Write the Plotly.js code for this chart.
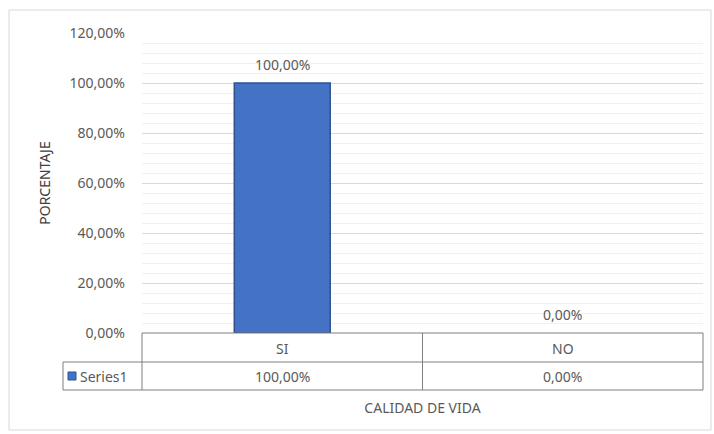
<!DOCTYPE html>
<html>
<head>
<meta charset="utf-8">
<script src="https://cdn.plot.ly/plotly-3.0.1.min.js"></script>
<style>
  html, body { margin: 0; padding: 0; background: #ffffff; }
  #chart { width: 714px; height: 434px; }
</style>
</head>
<body>
<div id="chart"></div>
<script>
// ---- data ----
const categories = ['SI', 'NO'];
const values = [1.00, 0.00];          // fractions (100,00% and 0,00%)
const seriesName = 'Series1';
const xAxisTitle = 'CALIDAD DE VIDA';
const yAxisTitle = 'PORCENTAJE';

// ---- helpers ----
function fmtPct(v) { return (v * 100).toFixed(2).replace('.', ',') + '%'; }

// plot-area pixel geometry -> paper coords
const L = 142, R = 11, T = 33, B = 101, W = 714, H = 434;
const pw = W - L - R, ph = H - T - B;
const px = p => (p - L) / pw;
const py = p => (H - B - p) / ph;

const FONT = 'Noto Sans, Liberation Sans, sans-serif';
const TXT = '#595959';
const LINE = '#7f7f7f';

const row1Top = py(333), row2Top = py(362), row2Bot = py(390);
const row1Mid = py(348), row2Mid = py(376);
const legendLeft = px(63);

const shapes = [
  // outer chart border
  {type: 'rect', xref: 'paper', yref: 'paper', x0: px(9), x1: px(711), y0: py(10), y1: py(430),
   line: {color: '#d9d9d9', width: 1}, fillcolor: 'rgba(0,0,0,0)', layer: 'below'},
  // table horizontal lines
  {type: 'line', xref: 'paper', yref: 'paper', x0: 0, x1: 1, y0: row1Top, y1: row1Top, line: {color: LINE, width: 1}},
  {type: 'line', xref: 'paper', yref: 'paper', x0: legendLeft, x1: 1, y0: row2Top, y1: row2Top, line: {color: LINE, width: 1}},
  {type: 'line', xref: 'paper', yref: 'paper', x0: legendLeft, x1: 1, y0: row2Bot, y1: row2Bot, line: {color: LINE, width: 1}},
  // table vertical lines
  {type: 'line', xref: 'paper', yref: 'paper', x0: legendLeft, x1: legendLeft, y0: row2Top, y1: row2Bot, line: {color: LINE, width: 1}},
  {type: 'line', xref: 'paper', yref: 'paper', x0: 0, x1: 0, y0: row1Top, y1: row2Bot, line: {color: LINE, width: 1}},
  {type: 'line', xref: 'paper', yref: 'paper', x0: 1, x1: 1, y0: row1Top, y1: row2Bot, line: {color: LINE, width: 1}},
  // legend key in the table
  {type: 'rect', xref: 'paper', yref: 'paper', x0: px(68), x1: px(76), y0: py(380), y1: py(372),
   line: {color: '#2F528F', width: 1}, fillcolor: '#4472C4'}
];
// dividers between category columns
for (let i = 0; i < categories.length - 1; i++) {
  shapes.push({type: 'line', xref: 'x', yref: 'paper', x0: i + 0.5, x1: i + 0.5, y0: row1Top, y1: row2Bot,
               line: {color: LINE, width: 1}});
}

const annotations = [];
categories.forEach((c, i) => {
  // data label above each bar
  annotations.push({xref: 'x', yref: 'y', x: c, y: values[i], text: fmtPct(values[i]), showarrow: false,
                    font: {family: FONT, size: 14, color: TXT}, xanchor: 'center', yanchor: 'middle', yshift: 19});
  // data table cells
  annotations.push({xref: 'x', yref: 'paper', x: c, y: row1Mid, text: c, showarrow: false,
                    font: {family: FONT, size: 14, color: TXT}, xanchor: 'center', yanchor: 'middle'});
  annotations.push({xref: 'x', yref: 'paper', x: c, y: row2Mid, text: fmtPct(values[i]), showarrow: false,
                    font: {family: FONT, size: 14, color: TXT}, xanchor: 'center', yanchor: 'middle'});
});
annotations.push({xref: 'paper', yref: 'paper', x: px(78), y: row2Mid, text: seriesName, showarrow: false,
                  font: {family: FONT, size: 14, color: TXT}, xanchor: 'left', yanchor: 'middle'});

const trace = {
  type: 'bar',
  x: categories,
  y: values,
  name: seriesName,
  marker: {color: '#4472C4', line: {color: '#2F528F', width: values.map(v => v === 0 ? 0 : 1.5)}},
  hoverinfo: 'x+y'
};

const layout = {
  width: W, height: H,
  margin: {l: L, r: R, t: T, b: B, pad: 0},
  paper_bgcolor: '#ffffff',
  plot_bgcolor: '#ffffff',
  showlegend: false,
  separators: ', ',
  bargap: 0.658,
  font: {family: FONT, size: 14, color: TXT},
  xaxis: {
    type: 'category',
    range: [-0.5, categories.length - 0.5],
    showticklabels: false,
    showgrid: false,
    zeroline: false,
    showline: false,
    ticks: '',
    fixedrange: true,
    title: {text: xAxisTitle, standoff: 70, font: {family: FONT, size: 14, color: TXT}},
    automargin: false
  },
  yaxis: {
    range: [0, 1.2],
    dtick: 0.2,
    tick0: 0,
    tickformat: '.2%',
    showgrid: true,
    gridcolor: '#d9d9d9',
    gridwidth: 1,
    minor: {dtick: 0.04, showgrid: true, gridcolor: '#f0f0f0', gridwidth: 1},
    zeroline: false,
    showline: false,
    ticks: '',
    ticklabelstandoff: 16,
    tickfont: {family: FONT, size: 14, color: TXT},
    fixedrange: true,
    automargin: false,
    title: {text: yAxisTitle, standoff: 15, font: {family: FONT, size: 14, color: '#404040'}}
  },
  shapes: shapes,
  annotations: annotations
};

Plotly.newPlot('chart', [trace], layout, {displayModeBar: false, staticPlot: true});
</script>
</body>
</html>
